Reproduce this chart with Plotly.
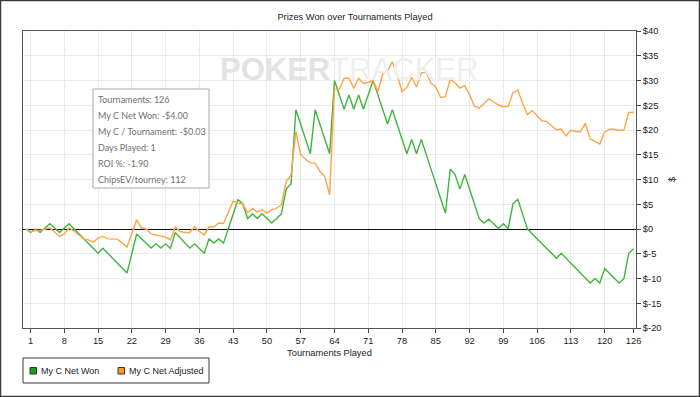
import plotly.graph_objects as go

# ---------------- data ----------------
tournaments = list(range(0, 127))

net_won = [
    0.0, -0.7, 0.0, -0.7, 0.2, 1.05, 0.2, -0.7, 0.2, 1.05,
    0.05, -0.95, -1.95, -2.9, -3.9, -4.9, -3.9, -4.9, -5.9, -6.9,
    -7.9, -8.9, -4.95, -1.0, -1.95, -2.9, -3.86, -3.0, -3.86, -3.0,
    -3.95, -0.7, -1.75, -2.8, -3.86, -3.0, -3.95, -4.9, -2.0, -2.85,
    -2.0, -2.85, 0.05, 2.95, 5.9, 5.1, 2.1, 3.1, 2.1, 3.1,
    2.15, 1.2, 2.1, 3.07, 8.1, 9.1, 24.1, 21.1, 18.1, 15.2,
    24.1, 21.1, 18.2, 15.2, 30.0, 27.1, 24.2, 27.1, 24.2, 27.1,
    24.2, 27.1, 30.0, 27.1, 24.1, 21.2, 24.1, 21.1, 18.1, 15.2,
    18.1, 15.2, 18.1, 15.1, 12.1, 9.2, 6.2, 3.2, 12.1, 11.0,
    8.05, 11.0, 8.1, 5.1, 2.1, 1.2, 2.0, 1.05, 0.1, 1.05,
    0.05, 5.1, 6.0, 3.0, 0.0, -1.0, -2.0, -3.0, -3.95, -4.95,
    -5.9, -4.9, -5.9, -6.9, -7.9, -8.9, -9.9, -10.9, -10.0, -10.9,
    -8.0, -8.95, -9.95, -10.9, -10.0, -4.9, -4.0,
]

net_adjusted = [
    0.0, -0.5, -0.3, -0.3, 0.0, 0.2, -0.6, -1.5, -1.0, 0.2,
    -0.4, -1.2, -2.0, -2.2, -2.65, -1.85, -1.5, -2.0, -2.0, -2.05,
    -2.8, -3.65, -0.9, 1.85, 0.2, 0.0, -1.0, -1.2, -1.5, -1.65,
    -2.2, 0.4, -0.5, -0.7, -0.7, 0.5, -0.5, -1.2, 0.4, 0.4,
    1.2, 1.1, 3.4, 5.6, 5.2, 5.1, 3.3, 4.1, 3.45, 3.9,
    3.2, 3.9, 4.2, 4.9, 9.6, 10.9, 19.7, 15.0, 14.1, 13.35,
    13.3, 11.6, 10.6, 6.9, 28.2, 28.2, 30.45, 30.45, 28.4, 30.45,
    29.4, 29.6, 30.0, 27.75, 31.3, 31.9, 33.75, 31.1, 27.75, 28.6,
    30.65, 28.7, 31.55, 31.65, 29.45, 28.7, 26.6, 26.75, 30.3, 29.5,
    28.45, 28.95, 27.15, 24.8, 24.4, 25.3, 26.3, 25.65, 25.05, 24.75,
    24.75, 27.55, 28.1, 25.4, 23.1, 23.9, 22.85, 21.85, 21.7, 20.8,
    20.0, 20.2, 18.8, 20.0, 19.7, 19.7, 21.35, 18.2, 17.65, 17.15,
    19.6, 20.15, 20.15, 19.9, 20.0, 23.55, 23.6,
]

x_ticks = [1, 8, 15, 22, 29, 36, 43, 50, 57, 64, 71, 78, 85, 92, 99, 106, 113, 120, 126]
y_ticks = [40, 35, 30, 25, 20, 15, 10, 5, 0, -5, -10, -15, -20]

series_names = ["My C Net Won", "My C Net Adjusted"]
series_colors = ["#3fb53f", "#ffa545"]
legend_swatch_colors = ["#1e9e1e", "#ff9a1a"]

tooltip_lines = [
    "Tournaments: 126",
    "My C Net Won: -$4.00",
    "My C / Tournament: -$0.03",
    "Days Played: 1",
    "ROI %: -1.90",
    "ChipsEV/tourney: 112",
]

# ---------------- layout geometry (pixels) ----------------
W, H = 700, 397
L, R, T, B = 23, 64, 31, 69
PW = W - L - R
PH = H - T - B


def px(x):
    return (x - L) / PW


def py(y):
    return (H - B - y) / PH


FONT = "Liberation Sans, Arial, sans-serif"

fig = go.Figure()
for vals, name, col in zip([net_won, net_adjusted], series_names, series_colors):
    fig.add_trace(go.Scatter(
        x=tournaments, y=vals, mode="lines", name=name,
        line=dict(color=col, width=1.4), showlegend=False,
        hoverinfo="skip",
    ))

shapes = []
annotations = []

# outer frame
shapes.append(dict(type="rect", xref="paper", yref="paper",
                   x0=px(0.5), x1=px(W - 0.5), y0=py(H - 0.5), y1=py(0.5),
                   line=dict(color="#3a3a3a", width=1.5), layer="above"))

# tooltip box
shapes.append(dict(type="rect", xref="paper", yref="paper",
                   x0=px(93), x1=px(209), y0=py(188), y1=py(89),
                   line=dict(color="#a8a8a8", width=1), fillcolor="white", layer="above"))
for i, txt in enumerate(tooltip_lines):
    annotations.append(dict(text=txt, xref="paper", yref="paper",
                            x=px(95.5), y=py(99.5 + 16 * i), xanchor="left", yanchor="middle",
                            showarrow=False,
                            font=dict(family="Lato, Open Sans, sans-serif", size=9, color="#707070")))

# watermark
annotations.append(dict(
    text="<span style='color:#e3e3e3'><b>POKER</b></span><span style='color:#efefef'>TRACKER</span>",
    xref="paper", yref="paper", x=px(349), y=py(69), xanchor="center", yanchor="middle",
    showarrow=False, font=dict(family="Liberation Sans, Arial, sans-serif", size=31)))

# legend (box + swatches + labels)
shapes.append(dict(type="rect", xref="paper", yref="paper",
                   x0=px(23), x1=px(209), y0=py(383), y1=py(358),
                   line=dict(color="#3a3a3a", width=1), fillcolor="white"))
for sx, tx, name, col in zip([30, 118], [39, 127], series_names, legend_swatch_colors):
    shapes.append(dict(type="rect", xref="paper", yref="paper",
                       x0=px(sx), x1=px(sx + 6.5), y0=py(374), y1=py(367.5),
                       line=dict(color="#333333", width=1), fillcolor=col))
    annotations.append(dict(text=name, xref="paper", yref="paper",
                            x=px(tx), y=py(370.8), xanchor="left", yanchor="middle",
                            showarrow=False, font=dict(family=FONT, size=9, color="#222")))

fig.update_layout(
    width=W, height=H,
    margin=dict(l=L, r=R, t=T, b=B, autoexpand=False),
    paper_bgcolor="white", plot_bgcolor="white",
    font=dict(family=FONT, size=9.3, color="#222"),
    title=dict(text="Prizes Won over Tournaments Played", x=355 / W, xref="container",
               xanchor="center", y=1 - 17 / H, yref="container", yanchor="middle",
               font=dict(family=FONT, size=9.3, color="#222")),
    showlegend=False,
    hovermode=False,
    shapes=shapes,
    annotations=annotations,
    xaxis=dict(
        range=[-0.56, 126.5], tickmode="array", tickvals=x_ticks,
        ticktext=[str(v) for v in x_ticks],
        showgrid=True, gridcolor="#ebebeb", gridwidth=1,
        zeroline=False, showline=True, mirror=True, linecolor="#555", linewidth=1,
        ticks="outside", ticklen=4, tickcolor="#444",
        tickfont=dict(family=FONT, size=9.3, color="#222"),
        title=dict(text="Tournaments Played", standoff=4,
                   font=dict(family=FONT, size=9.3, color="#222")),
        automargin=False,
    ),
    yaxis=dict(
        side="right", range=[-20, 40], tickmode="array", tickvals=y_ticks,
        ticktext=[f"${v}" for v in y_ticks],
        showgrid=True, gridcolor="#ebebeb", gridwidth=1,
        zeroline=True, zerolinecolor="#111", zerolinewidth=1,
        showline=True, mirror=True, linecolor="#555", linewidth=1,
        ticks="outside", ticklen=4, tickcolor="#444",
        tickfont=dict(family=FONT, size=9.3, color="#222"),
        title=dict(text="$", standoff=8, font=dict(family=FONT, size=9.3, color="#222")),
        automargin=False,
    ),
)

fig.write_html(
    "out.html",
    config={"displayModeBar": False, "staticPlot": True},
    post_script="document.body.style.margin='0';document.body.style.overflow='hidden';",
)
